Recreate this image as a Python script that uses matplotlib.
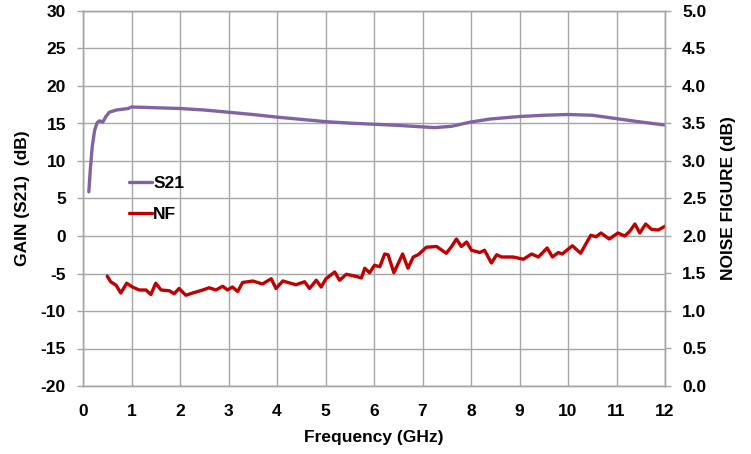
import matplotlib
matplotlib.use("Agg")
import matplotlib.pyplot as plt

# ---- data ----
s21_freq = [0.12, 0.15, 0.19, 0.24, 0.29, 0.34, 0.41, 0.47, 0.54, 0.69, 0.93, 1.0,
            1.5, 2.0, 2.5, 3.0, 3.5, 4.0, 4.5, 5.0, 5.5, 6.0, 6.5, 7.0, 7.25, 7.6,
            8.0, 8.4, 9.0, 9.5, 10.0, 10.5, 11.0, 11.5, 12.0]
s21_gain = [5.9, 8.8, 11.9, 14.1, 15.1, 15.35, 15.2, 15.9, 16.5, 16.8, 17.0, 17.2,
            17.1, 17.0, 16.8, 16.5, 16.2, 15.85, 15.55, 15.25, 15.05, 14.9, 14.75, 14.55, 14.45, 14.63,
            15.2, 15.6, 15.93, 16.1, 16.2, 16.1, 15.65, 15.2, 14.8]

nf_freq = [0.50, 0.57, 0.68, 0.78, 0.90, 1.02, 1.16, 1.30, 1.40, 1.50, 1.61, 1.78, 1.88,
           1.98, 2.12, 2.26, 2.47, 2.60, 2.74, 2.88, 2.98, 3.08, 3.19, 3.29, 3.50, 3.70,
           3.88, 3.98, 4.12, 4.39, 4.57, 4.67, 4.81, 4.91, 5.01, 5.19, 5.29, 5.43, 5.64,
           5.74, 5.81, 5.91, 6.01, 6.12, 6.22, 6.29, 6.41, 6.59, 6.70, 6.81, 6.91, 7.08,
           7.29, 7.49, 7.60, 7.70, 7.80, 7.91, 8.01, 8.18, 8.28, 8.42, 8.53, 8.63, 8.87,
           9.08, 9.25, 9.39, 9.57, 9.68, 9.80, 9.88, 10.09, 10.26, 10.47, 10.58, 10.68,
           10.85, 11.03, 11.17, 11.27, 11.38, 11.48, 11.60, 11.72, 11.86, 12.00]
nf_val = [1.465, 1.39, 1.345, 1.24, 1.37, 1.32, 1.28, 1.28, 1.22, 1.37, 1.28, 1.27, 1.23,
          1.30, 1.21, 1.24, 1.28, 1.31, 1.28, 1.33, 1.28, 1.32, 1.26, 1.38, 1.40, 1.36,
          1.43, 1.30, 1.40, 1.35, 1.39, 1.30, 1.41, 1.32, 1.43, 1.52, 1.41, 1.49, 1.46,
          1.44, 1.57, 1.51, 1.61, 1.59, 1.76, 1.75, 1.51, 1.76, 1.57, 1.72, 1.75, 1.85,
          1.86, 1.77, 1.86, 1.96, 1.86, 1.92, 1.81, 1.78, 1.81, 1.64, 1.75, 1.72, 1.72,
          1.69, 1.76, 1.72, 1.84, 1.72, 1.78, 1.76, 1.87, 1.77, 2.01, 1.99, 2.04,
          1.96, 2.04, 2.00, 2.06, 2.16, 2.04, 2.16, 2.09, 2.08, 2.13]

x_ticks = list(range(0, 13))
gain_ticks = [-20, -15, -10, -5, 0, 5, 10, 15, 20, 25, 30]
nf_ticks = [0.0, 0.5, 1.0, 1.5, 2.0, 2.5, 3.0, 3.5, 4.0, 4.5, 5.0]

# ---- style ----
FONT = ['Liberation Sans', 'DejaVu Sans']
plt.rcParams['font.family'] = FONT
plt.rcParams['font.weight'] = 'bold'
plt.rcParams['axes.unicode_minus'] = False
GRID = '#a6a6a6'
PURPLE = '#8064a2'
RED = '#c00000'
FS = 12.5

fig = plt.figure(figsize=(7.51, 4.54), dpi=100)
ax = fig.add_axes([83/751, 1-386/454, (665-83)/751, (386-11)/454])
ax2 = ax.twinx()

ax.set_xlim(0, 12)
ax.set_ylim(-20, 30)
ax2.set_ylim(0, 5)
ax.set_xticks(x_ticks)
ax.set_yticks(gain_ticks)
ax2.set_yticks(nf_ticks)
ax2.set_yticklabels([f"{v:.1f}" for v in nf_ticks])

ax.grid(True, color=GRID, linewidth=1.0)
ax.set_axisbelow(True)
for a in (ax, ax2):
    for s in a.spines.values():
        s.set_color(GRID)
        s.set_linewidth(1.0)

ax.tick_params(axis='x', length=0, pad=13, labelsize=FS)
ax.tick_params(axis='y', length=4.3, width=1.0, color=GRID, pad=8, labelsize=FS)
ax2.tick_params(axis='y', length=4.3, width=1.0, color=GRID, pad=8, labelsize=FS)
for lab in ax.get_xticklabels() + ax.get_yticklabels() + ax2.get_yticklabels():
    lab.set_fontweight('bold')

l1, = ax.plot(s21_freq, s21_gain, color=PURPLE, linewidth=2.4, solid_joinstyle='round', solid_capstyle='round')
l2, = ax2.plot(nf_freq, nf_val, color=RED, linewidth=2.4, solid_joinstyle='round', solid_capstyle='round')

ax.set_xlabel('Frequency (GHz)', fontsize=FS, fontweight='bold')
ax.xaxis.set_label_coords(0.5, (386-430)/375)
ax.set_ylabel('GAIN (S21)  (dB)', fontsize=FS, fontweight='bold')
ax.yaxis.set_label_coords((30-83)/582, 0.5)
ax2.set_ylabel('NOISE FIGURE (dB)', fontsize=FS, fontweight='bold', rotation=90)
ax2.yaxis.set_label_coords((721-83)/582, 0.5)

leg = ax2.legend([l1, l2], ['S21', 'NF'], loc='upper left',
                 bbox_to_anchor=((129-83)/582, (386-176)/375),
                 frameon=False, fontsize=FS, handlelength=1.3, handletextpad=0.1,
                 labelspacing=0.9, borderaxespad=0, borderpad=0)
for t in leg.get_texts():
    t.set_fontweight('bold')

fig.savefig('out.png', dpi=100)
